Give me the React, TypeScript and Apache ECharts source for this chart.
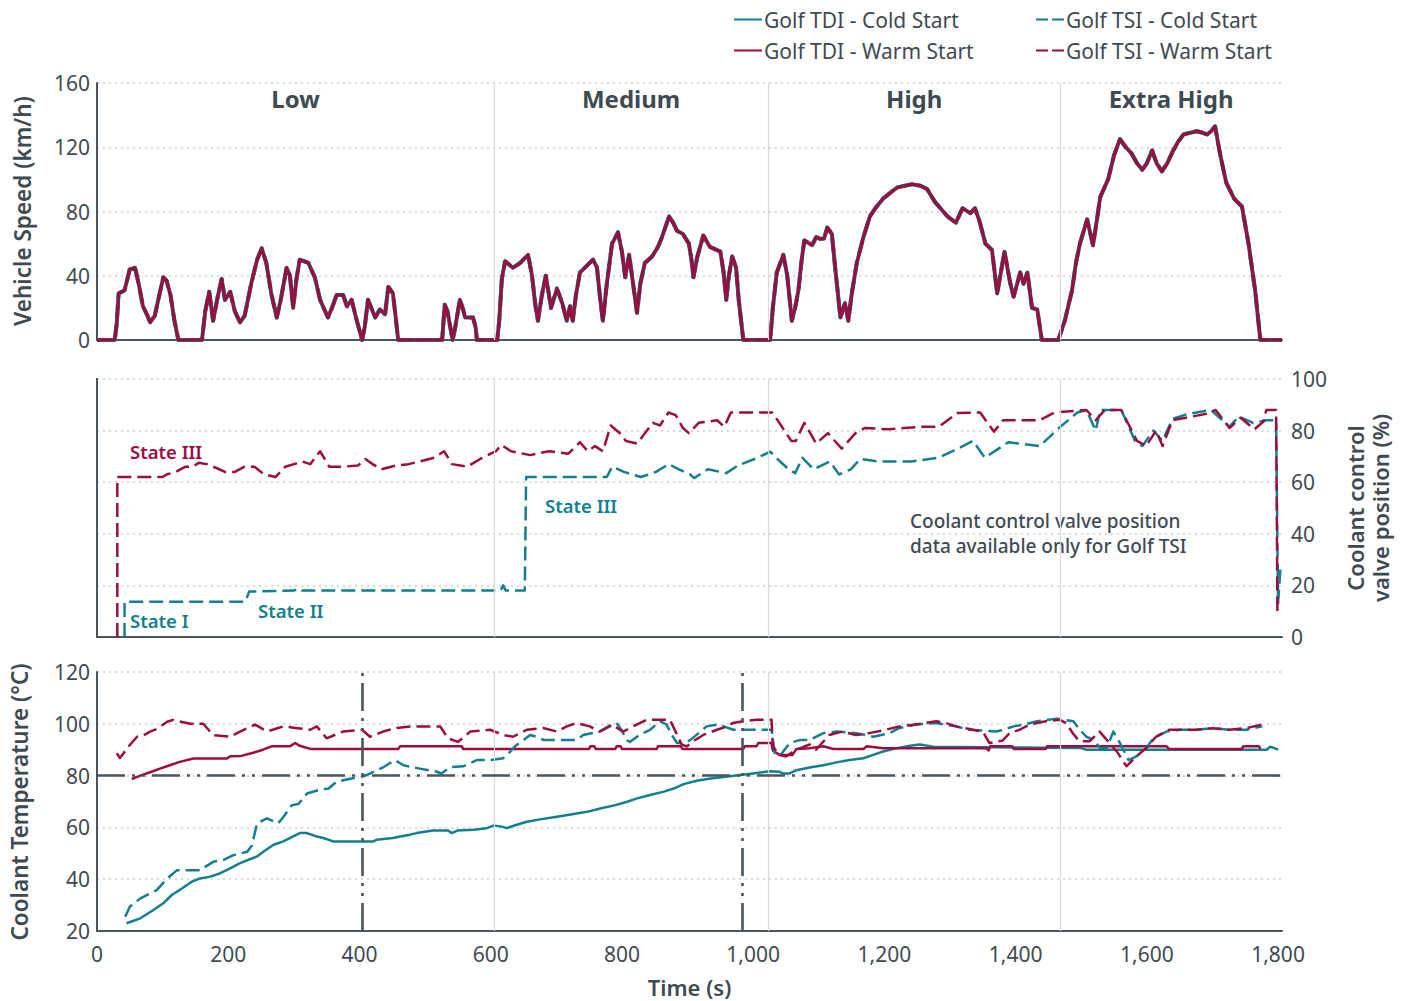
import React, { useEffect, useRef } from 'react';
import * as echarts from 'echarts';

const TDI_COLD = 'Golf TDI - Cold Start';
const TDI_WARM = 'Golf TDI - Warm Start';
const TSI_COLD = 'Golf TSI - Cold Start';
const TSI_WARM = 'Golf TSI - Warm Start';

const TEAL = '#0f7f91';
const CRIMSON = '#9e0b3f';
const DARK = '#3e4a53';
const AXIS = '#4a555e';
const GRIDC = '#cdcdcd';
const PHASEC = '#d9d9d9';
const FONT = "'Noto Sans', 'DejaVu Sans', sans-serif";

// WLTP phases (time boundaries in s) and names
const phaseBounds = [0, 605, 1023, 1468, 1806];
const phaseNames = ['Low', 'Medium', 'High', 'Extra High'];

// Reference markers in the temperature panel
const refTimes = [405, 983];
const refTemp = 80;

// Vehicle speed (km/h) vs time (s) — shared by all four tests
const speedTrace = [
  [0, 0], [27, 0], [30, 10], [33, 29], [42, 31], [50, 44], [58, 45], [64, 34], [70, 21], [76, 16], [81, 11], [88, 15], [95, 28], [101, 39], [106, 37], [112, 28], [118, 12], [124, 0],
  [160, 0], [165, 18], [171, 30], [177, 12], [184, 27], [190, 38], [195, 25], [203, 30], [210, 18], [218, 11], [225, 15], [235, 35], [244, 50], [251, 57], [258, 48], [266, 28], [274, 14], [280, 25], [289, 45], [294, 40], [299, 20], [304, 38], [309, 50], [322, 48], [332, 39], [340, 25], [352, 14], [360, 22], [365, 28], [375, 28], [381, 21], [388, 25], [396, 12], [404, 0],
  [408, 8], [413, 25], [418, 20], [424, 14], [431, 19], [439, 16], [444, 33], [451, 29], [455, 15], [459, 0], [526, 0], [530, 22], [534, 18], [542, 0], [546, 8], [553, 25], [558, 19], [561, 14], [573, 14], [577, 8], [579, 0],
  [610, 0], [613, 12], [617, 38], [622, 49], [634, 45], [645, 48], [657, 53], [663, 40], [668, 22], [672, 12], [678, 28], [684, 40], [692, 20], [701, 32], [709, 23], [716, 12], [721, 21], [725, 12], [730, 28], [736, 42], [746, 46], [756, 50], [762, 45], [767, 25], [771, 12], [777, 35], [785, 60], [794, 67], [800, 55], [805, 39], [811, 53], [817, 35], [823, 17], [828, 35], [835, 48], [846, 52], [855, 58], [861, 64], [866, 70], [872, 77], [878, 73], [884, 68], [893, 66], [902, 60], [906, 50], [909, 39], [915, 52], [924, 65], [934, 58], [950, 55], [955, 42], [959, 25], [963, 40], [968, 52], [974, 45], [978, 25], [985, 0],
  [1026, 0], [1030, 20], [1036, 42], [1046, 53], [1052, 40], [1059, 12], [1064, 20], [1069, 31], [1074, 50], [1078, 62], [1090, 59], [1096, 64], [1102, 63], [1108, 63], [1113, 70], [1120, 66], [1125, 45], [1133, 14], [1140, 23], [1145, 12], [1150, 28], [1158, 48], [1168, 64], [1178, 77], [1188, 83], [1198, 88], [1210, 92], [1220, 95], [1242, 97], [1255, 96], [1265, 94], [1277, 86], [1296, 77], [1309, 73], [1319, 82], [1331, 79], [1338, 82], [1345, 74], [1354, 60], [1364, 56], [1372, 29], [1383, 55], [1392, 35], [1397, 27], [1407, 42], [1412, 35], [1418, 42], [1425, 20], [1433, 19], [1440, 0],
  [1465, 0], [1475, 12], [1486, 31], [1492, 48], [1498, 60], [1509, 75], [1518, 59], [1524, 75], [1529, 89], [1541, 100], [1550, 115], [1559, 125], [1568, 120], [1577, 116], [1585, 110], [1593, 106], [1600, 110], [1608, 118], [1615, 110], [1623, 105], [1631, 110], [1639, 117], [1647, 123], [1656, 128], [1666, 129], [1676, 130], [1685, 129], [1692, 128], [1698, 130], [1704, 133], [1712, 115], [1721, 98], [1733, 88], [1745, 83], [1755, 60], [1765, 31], [1773, 0], [1806, 0],
];

// Coolant control valve position (%) — Golf TSI only
const valveTsiWarm = [
  [31, 0], [31, 62], [100, 62], [106, 63], [120, 64], [135, 66], [146, 66], [155, 67.5], [167, 67], [182, 65.5], [195, 64], [210, 64], [225, 66], [240, 66], [255, 63], [272, 62], [287, 66], [300, 67], [313, 68], [325, 67], [340, 72], [354, 66], [375, 66], [398, 66.5], [409, 69], [420, 67], [433, 65], [456, 66.5], [475, 67], [491, 68], [514, 69.5], [529, 72], [541, 67], [564, 66], [584, 69], [608, 72], [616, 74.5], [631, 72], [660, 70.5], [689, 72], [718, 71], [736, 75.5], [748, 72], [759, 74], [771, 72], [783, 82], [797, 79], [806, 76], [823, 75], [835, 79], [847, 83], [858, 82], [871, 87], [882, 86], [893, 81], [902, 79], [917, 83], [945, 84], [956, 81.5], [966, 87], [1029, 87], [1040, 83], [1058, 76], [1065, 76], [1078, 83], [1096, 75], [1114, 79], [1135, 73], [1156, 79], [1170, 81], [1206, 80.5], [1255, 81.5], [1283, 81.5], [1311, 86.8], [1346, 87], [1367, 79.6], [1381, 84], [1437, 84], [1459, 87], [1508, 88], [1522, 84], [1536, 88], [1561, 88], [1585, 76], [1599, 74], [1614, 80], [1624, 74], [1639, 84], [1691, 86.5], [1705, 88], [1726, 81], [1743, 85], [1764, 80.5], [1778, 83.5], [1782, 88], [1797, 88], [1799, 10.5], [1804, 12],
];
const valveTsiCold = [
  [42, 0], [42, 13.7], [226, 13.7], [232, 17.6], [300, 18], [307, 18.8], [312, 18], [615, 18], [619, 20], [623, 18], [652, 18], [654, 62], [777, 62], [785, 66], [803, 64], [829, 62], [852, 64], [871, 67], [887, 65], [904, 63], [910, 61.6], [931, 65], [959, 63.5], [977, 66.5], [1002, 69], [1026, 71.8], [1037, 69], [1054, 65], [1064, 63.5], [1075, 69.5], [1092, 65], [1117, 68], [1131, 63], [1149, 65], [1163, 69], [1191, 68], [1241, 68], [1283, 69.5], [1304, 72], [1335, 76], [1353, 69.5], [1389, 75.5], [1437, 74], [1466, 81], [1494, 87], [1508, 88], [1522, 80], [1529, 88], [1561, 88], [1582, 76], [1593, 74], [1610, 80], [1624, 76], [1639, 84.5], [1663, 86.5], [1698, 88], [1726, 81.5], [1740, 85.5], [1762, 83], [1782, 84], [1797, 84], [1800, 13], [1804, 28],
];

// Coolant temperature (°C)
const tempTsiWarm = [
  [30, 88.6], [35, 86.8], [50, 91.8], [61, 95], [71, 95.6], [81, 97], [91, 98], [107, 100.8], [116, 101.5], [142, 100], [162, 100], [177, 95.6], [203, 95], [218, 97], [241, 99.7], [249, 98.5], [259, 97], [284, 99], [302, 98.4], [325, 97.7], [335, 99], [350, 94.4], [375, 97], [404, 97.7], [416, 95], [436, 97], [457, 98.4], [477, 99], [523, 99], [535, 94.4], [550, 93], [569, 97], [599, 97.7], [619, 95.7], [634, 95], [655, 97.7], [680, 98.4], [701, 97], [716, 99], [731, 100.3], [751, 99], [766, 97], [784, 99.7], [802, 97], [817, 99], [838, 101.6], [873, 101.6], [878, 99], [891, 92], [899, 91.3], [909, 93.3], [924, 95.7], [945, 97.7], [960, 99], [969, 100.3], [985, 101], [1005, 101.6], [1028, 101.6], [1030, 91.3], [1040, 88], [1050, 87.4], [1066, 90], [1086, 92], [1096, 90], [1105, 92.6], [1116, 95.7], [1136, 97], [1157, 95.7], [1177, 96.4], [1202, 97.7], [1223, 99], [1248, 99.7], [1279, 101], [1294, 100.3], [1309, 99], [1335, 97.7], [1350, 97], [1360, 92.6], [1380, 93.5], [1391, 96.4], [1406, 97.7], [1421, 99.7], [1446, 101], [1467, 101.6], [1477, 100.3], [1487, 96.4], [1497, 93.3], [1513, 93.3], [1528, 97], [1543, 92.6], [1556, 88.7], [1569, 83.6], [1584, 87.4], [1599, 90.6], [1614, 95], [1634, 97.7], [1675, 97.7], [1700, 98.3], [1726, 97.7], [1751, 98.3], [1776, 99.7],
];
const tempTsiCold = [
  [43, 25.5], [50, 29.4], [66, 32.6], [81, 34.5], [91, 35.8], [107, 40.3], [122, 43.5], [157, 43.5], [177, 46.7], [193, 47.5], [208, 49.3], [229, 50.6], [236, 53], [244, 61.6], [259, 63.5], [276, 61.6], [284, 64], [297, 68.6], [307, 69], [320, 73.1], [340, 74.6], [353, 75], [365, 77.6], [386, 78.8], [406, 79.7], [416, 80.8], [437, 83.3], [454, 86], [467, 84], [492, 82.7], [518, 81.5], [525, 80.8], [538, 83.3], [558, 83.6], [579, 86], [599, 86], [619, 86.7], [630, 89.3], [637, 91.3], [650, 93.7], [660, 95.7], [670, 95], [681, 93.7], [731, 93.7], [741, 95.7], [766, 97], [782, 99], [792, 100.3], [799, 97.7], [807, 93.7], [812, 93], [827, 95.7], [843, 97.7], [858, 101], [868, 99.7], [876, 95.7], [884, 92.6], [894, 92.6], [904, 93.7], [917, 96.4], [929, 99], [945, 99.7], [955, 99], [970, 97.7], [1028, 97.7], [1033, 88.7], [1040, 87.4], [1056, 92.6], [1071, 93.7], [1086, 93.7], [1107, 96.4], [1127, 97], [1157, 96.4], [1183, 95], [1208, 96.4], [1223, 98.4], [1248, 99.7], [1279, 100.3], [1309, 99], [1330, 97.7], [1371, 97], [1397, 99], [1412, 99.7], [1433, 101], [1463, 102], [1488, 101], [1498, 97.7], [1508, 95], [1519, 93.7], [1529, 90.6], [1539, 90.6], [1549, 97], [1559, 92.6], [1572, 86], [1584, 87.4], [1599, 90.6], [1610, 94.4], [1630, 97], [1651, 97.7], [1675, 97.7], [1700, 98.3], [1726, 97.7], [1751, 97.7], [1776, 99],
];
const tempTdiWarm = [
  [53, 78.7], [66, 80], [81, 81.3], [96, 82.7], [111, 84], [126, 85.3], [147, 86.6], [198, 86.6], [203, 87.5], [220, 87.6], [238, 88.8], [253, 90], [266, 91.3], [294, 91.3], [302, 92.6], [309, 91.5], [325, 90.3], [459, 90.3], [462, 91.3], [556, 91.3], [558, 90.3], [750, 90.3], [752, 91.3], [758, 91.3], [760, 90.3], [790, 90.3], [792, 91.3], [798, 91.3], [800, 90.3], [853, 90.3], [855, 91.3], [890, 91.3], [892, 90.3], [985, 90.3], [987, 91.3], [1005, 91.3], [1008, 92.6], [1028, 92.6], [1030, 89.7], [1040, 88], [1060, 88], [1066, 90.3], [1086, 90.6], [1107, 91.3], [1122, 90.3], [1168, 90.3], [1173, 91.3], [1198, 90.6], [1355, 90.6], [1359, 89.7], [1361, 91.3], [1395, 91.3], [1397, 90.3], [1446, 90.3], [1448, 91.3], [1630, 91.3], [1634, 90.3], [1745, 90.3], [1747, 91.3], [1771, 91.3], [1773, 90.3],
];
const tempTdiCold = [
  [45, 23], [66, 24.9], [86, 28.1], [101, 30.7], [114, 33.9], [130, 36.5], [145, 39.1], [157, 40.3], [173, 41], [188, 42.3], [203, 44.2], [218, 46.2], [231, 47.5], [244, 48.8], [254, 50.7], [269, 53.3], [284, 54.6], [299, 56.5], [309, 57.8], [320, 57.8], [335, 56.5], [345, 55.9], [360, 54.6], [421, 54.6], [426, 55.2], [451, 55.9], [462, 56.5], [477, 57.2], [487, 57.8], [512, 58.8], [535, 58.8], [541, 57.8], [549, 58.8], [574, 59.1], [594, 59.7], [604, 60.7], [617, 60.3], [624, 59.7], [640, 61], [655, 62.2], [675, 63.1], [701, 64.1], [731, 65.4], [747, 66], [767, 67.3], [790, 68.6], [808, 69.9], [823, 71.2], [843, 72.5], [864, 73.8], [879, 75], [894, 76.7], [914, 78], [935, 78.9], [955, 79.5], [980, 80.2], [1000, 80.8], [1026, 81.7], [1040, 81.5], [1046, 80.8], [1055, 80.8], [1066, 82.1], [1086, 83.1], [1107, 84], [1127, 85.1], [1147, 86], [1168, 86.7], [1183, 88], [1198, 89.3], [1219, 90.6], [1239, 91.5], [1254, 92], [1275, 91.1], [1498, 90.7], [1508, 90], [1783, 90], [1787, 91], [1790, 91], [1800, 90],
];

const DASH = [14, 6];
const REFDASH = [28, 7, 3, 7, 3, 7];

function App() {
  const ref = useRef<HTMLDivElement>(null);
  useEffect(() => {
    if (!ref.current) return;
    const chart = echarts.init(ref.current, undefined, { renderer: 'svg' });

    const grids = [
      { left: 97, right: 122, top: 83, height: 257 },
      { left: 97, right: 122, top: 379, height: 258 },
      { left: 97, right: 122, top: 672, height: 259 },
    ];

    const xAxis = [0, 1, 2].map((i) => ({
      type: 'value',
      gridIndex: i,
      min: 0,
      max: 1806,
      interval: 200,
      axisLine: { show: true, onZero: false, lineStyle: { color: AXIS, width: 2 } },
      axisTick: { show: false },
      splitLine: { show: false },
      axisLabel: i === 2
        ? {
            show: true, fontSize: 21, color: DARK, fontFamily: FONT, margin: 12,
            formatter: (v: number) => (v % 200 === 0 ? v.toLocaleString('en-US') : ''),
          }
        : { show: false },
      name: i === 2 ? 'Time (s)' : '',
      nameLocation: 'middle',
      nameGap: 45,
      nameTextStyle: { fontSize: 22, fontWeight: 600, color: DARK, fontFamily: FONT },
    }));

    const split = { show: true, lineStyle: { color: GRIDC, width: 1.5, type: [2, 4] } };
    const lab = { fontSize: 21, color: DARK, fontFamily: FONT };
    const yAxis = [
      {
        type: 'value', gridIndex: 0, min: 0, max: 160, interval: 40,
        axisLine: { show: true, lineStyle: { color: AXIS, width: 2 } }, axisTick: { show: false },
        axisLabel: { ...lab, margin: 7 }, splitLine: split,
      },
      {
        type: 'value', gridIndex: 1, position: 'right', min: 0, max: 100, interval: 20,
        axisLine: { show: true, lineStyle: { color: AXIS, width: 2 } }, axisTick: { show: false },
        axisLabel: { ...lab, margin: 9 }, splitLine: split,
      },
      {
        type: 'value', gridIndex: 1, position: 'left', min: 0, max: 100, interval: 20,
        axisLine: { show: true, lineStyle: { color: AXIS, width: 2 } }, axisTick: { show: false },
        axisLabel: { show: false }, splitLine: { show: false },
      },
      {
        type: 'value', gridIndex: 2, min: 20, max: 120, interval: 20,
        axisLine: { show: true, lineStyle: { color: AXIS, width: 2 } }, axisTick: { show: false },
        axisLabel: { ...lab, margin: 7 }, splitLine: split,
      },
    ];

    const mk = (name: string, data: number[][], color: string, dashed: boolean, xi: number, yi: number, width: number, extra: any = {}) => ({
      type: 'line', name, data, xAxisIndex: xi, yAxisIndex: yi,
      showSymbol: false, symbol: 'none', silent: true,
      lineStyle: { color, width, type: dashed ? DASH : 'solid', cap: 'butt', join: 'round' },
      itemStyle: { color },
      ...extra,
    });

    const phaseLines = () => ({
      markLine: {
        silent: true, symbol: 'none', label: { show: false },
        lineStyle: { color: PHASEC, width: 1.2, type: 'solid' },
        data: phaseBounds.slice(1, -1).map((v) => ({ xAxis: v })),
      },
    });

    const phaseAreas = {
      markArea: {
        silent: true,
        itemStyle: { color: 'rgba(0,0,0,0)' },
        label: {
          show: true, position: 'insideTop', distance: 3,
          fontSize: 24, fontWeight: 'bold', color: DARK, fontFamily: FONT,
        },
        data: phaseNames.map((n, i) => [
          { name: n, xAxis: phaseBounds[i] },
          { xAxis: phaseBounds[i + 1] },
        ]),
      },
    };

    const series = [
      // speed panel
      mk(TDI_COLD, speedTrace, TEAL, false, 0, 0, 4, { ...phaseLines(), ...phaseAreas }),
      mk(TSI_COLD, speedTrace, TEAL, true, 0, 0, 4),
      mk(TSI_WARM, speedTrace, CRIMSON, true, 0, 0, 3),
      mk(TDI_WARM, speedTrace, CRIMSON, false, 0, 0, 3),
      // valve panel
      mk(TSI_COLD, valveTsiCold, TEAL, true, 1, 1, 2.5, phaseLines()),
      mk(TSI_WARM, valveTsiWarm, CRIMSON, true, 1, 1, 2.5),
      // temperature panel
      mk(TDI_COLD, tempTdiCold, TEAL, false, 2, 3, 2.5, phaseLines()),
      mk(TDI_WARM, tempTdiWarm, CRIMSON, false, 2, 3, 2.5, {
        markLine: {
          silent: true, symbol: 'none', label: { show: false },
          lineStyle: { color: AXIS, width: 2.6, type: REFDASH },
          data: [...refTimes.map((t) => ({ xAxis: t })), { yAxis: refTemp }],
        },
      }),
      mk(TSI_COLD, tempTsiCold, TEAL, true, 2, 3, 2.5),
      mk(TSI_WARM, tempTsiWarm, CRIMSON, true, 2, 3, 2.5),
    ];

    const legendBase = {
      orient: 'vertical', top: 4, itemWidth: 28, itemHeight: 14, itemGap: 10,
      selectedMode: false,
      itemStyle: { opacity: 0 },
      textStyle: { fontSize: 21, color: DARK, lineHeight: 21, fontFamily: FONT, padding: [0, 0, 0, -3] },
    };

    const txt = (text: string, x: number, y: number, fill: string, extra: any = {}) => ({
      type: 'text', x, y, silent: true,
      style: { text, fill, fontSize: 18.5, fontWeight: 600, fontFamily: FONT, align: 'left', verticalAlign: 'middle', ...extra },
    });
    const rot = (text: string, x: number, y: number, size = 22) => ({
      type: 'text', x, y, rotation: Math.PI / 2, silent: true,
      style: { text, fill: DARK, fontSize: size, fontWeight: 600, fontFamily: FONT, align: 'center', verticalAlign: 'middle' },
    });

    chart.setOption({
      animation: false,
      backgroundColor: '#ffffff',
      textStyle: { fontFamily: FONT },
      legend: [
        { ...legendBase, left: 728, data: [TDI_COLD, TDI_WARM] },
        {
          ...legendBase, left: 1030,
          data: [
            { name: TSI_COLD, lineStyle: { type: [12, 4] } },
            { name: TSI_WARM, lineStyle: { type: [12, 4] } },
          ],
        },
      ],
      grid: grids,
      xAxis,
      yAxis,
      series,
      graphic: [
        txt('State III', 130, 451, CRIMSON),
        txt('State III', 545, 505, TEAL),
        txt('State II', 258, 610, TEAL),
        txt('State I', 130, 620, TEAL),
        txt('Coolant control valve position', 910, 521, DARK, { fontWeight: 500, fontSize: 19 }),
        txt('data available only for Golf TSI', 910, 546, DARK, { fontWeight: 500, fontSize: 19 }),
        rot('Vehicle Speed (km/h)', 22, 211, 22.5),
        rot('Coolant Temperature (°C)', 19, 802, 22.5),
        rot('Coolant control', 1355, 508),
        rot('valve position (%)', 1380, 508),
      ],
    });

    return () => chart.dispose();
  }, []);

  return (
    <div
      ref={ref}
      style={{ position: 'fixed', left: 0, top: 0, width: 1404, height: 1001, background: '#fff' }}
    />
  );
}

export default App;
